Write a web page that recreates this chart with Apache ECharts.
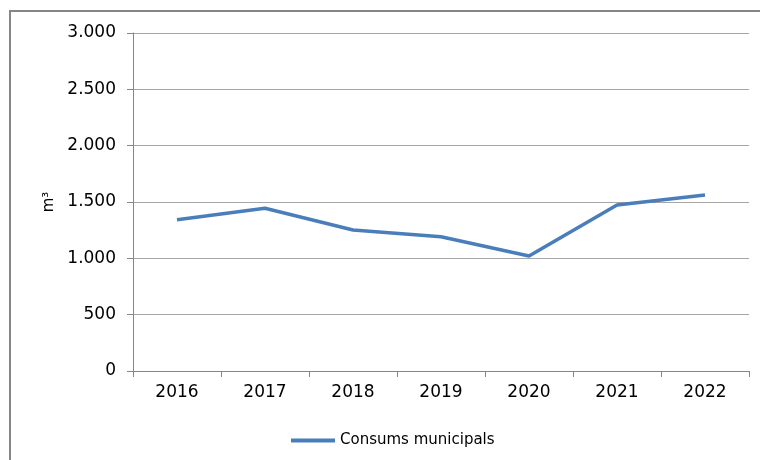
<!DOCTYPE html>
<html><head><meta charset="utf-8">
<script src="https://cdn.jsdelivr.net/npm/echarts@6/dist/echarts.min.js"></script>
<style>html,body{margin:0;padding:0;background:#fff}#c{width:760px;height:460px}</style>
</head><body><div id="c"></div>
<script>
const categories = ['2016','2017','2018','2019','2020','2021','2022'];
const consumsMunicipals = [1343, 1444, 1251, 1192, 1021, 1473, 1562];
const seriesName = 'Consums municipals';
const yAxisName = 'm³';

const chart = echarts.init(document.getElementById('c'));
const fontFam = '"DejaVu Sans",sans-serif';
chart.setOption({
  animation: false,
  graphic: [{type:'rect', shape:{x:10,y:11,width:800,height:500}, style:{fill:'none', stroke:'#868686', lineWidth:2}}],
  grid: {left:133, right:11, top:33, bottom:89, containLabel:false},
  legend: {
    data:[seriesName], left:286, top:428, icon:'rect', itemWidth:44, itemHeight:4, itemGap:5,
    textStyle:{fontFamily:fontFam, fontSize:15, color:'#000'}
  },
  xAxis: {
    type:'category', data:categories, boundaryGap:true,
    axisLine:{lineStyle:{color:'#868686', width:1}},
    axisTick:{show:true, length:6, lineStyle:{color:'#868686'}},
    axisLabel:{margin:13, fontFamily:fontFam, fontSize:17, color:'#000'}
  },
  yAxis: {
    type:'value', min:0, max:3000, interval:500,
    name:yAxisName, nameLocation:'middle', nameGap:75,
    nameTextStyle:{fontFamily:fontFam, fontSize:15, color:'#000'},
    axisLine:{show:true, lineStyle:{color:'#868686', width:1}},
    axisTick:{show:true, length:6, lineStyle:{color:'#868686'}},
    splitLine:{lineStyle:{color:'#a6a6a6', width:1}},
    axisLabel:{margin:17, fontFamily:fontFam, fontSize:17, color:'#000', padding:[4,0,0,0],
      formatter: v => v.toString().replace(/\B(?=(\d{3})+(?!\d))/g,'.')}
  },
  series: [{
    name:seriesName, type:'line', data:consumsMunicipals, symbol:'none',
    lineStyle:{color:'#4a7ebb', width:3.5}, itemStyle:{color:'#4a7ebb'}
  }]
});
</script></body></html>
